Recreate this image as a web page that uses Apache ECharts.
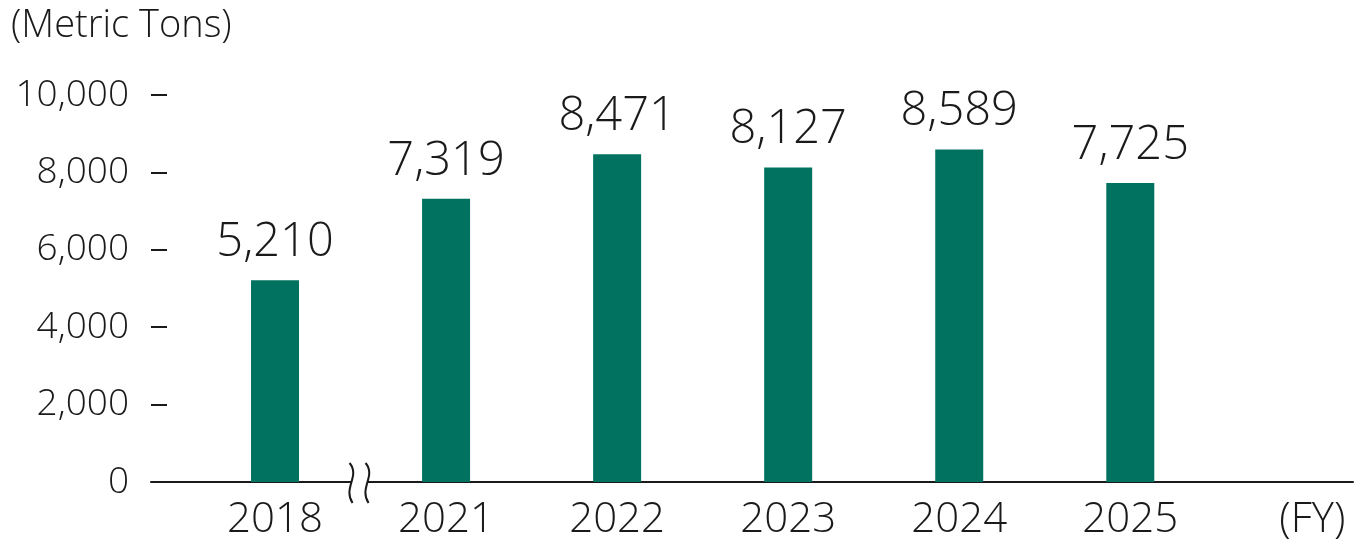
<!DOCTYPE html>
<html>
<head>
    <meta charset="utf-8">
    <title>Metric Tons</title>
    <script src="https://cdn.jsdelivr.net/npm/echarts@6/dist/echarts.min.js"></script>
    <style>
        html, body { margin: 0; padding: 0; background: #fff; }
        #chart1 { width: 1360px; height: 550px; }
    </style>
</head>
<body>
<div id="chart1"></div>
<script>
    // data
    var years = ['2018', '2021', '2022', '2023', '2024', '2025'];
    var tons = [5210, 7319, 8471, 8127, 8589, 7725];
    var yTicks = [0, 2000, 4000, 6000, 8000, 10000];
    var unitX = '(FY)';
    var unitY = '(Metric Tons)';

    var ink = '#1a1a1a';
    var green = '#00725f';
    var font = '"Open Sans", "Noto Sans", sans-serif';

    var myChart1 = echarts.init(document.getElementById('chart1'));

    // bars sit on a value axis by index, so the line can run past the last band
    var barData = tons.map(function (v, i) { return [i, v]; });
    var xLabelAt = years.map(function (y, i) { return i; });
    xLabelAt.push(years.length); // slot for (FY)

    myChart1.setOption({
        animation: false,
        title: {
            text: unitY,
            left: 6,
            top: 2,
            textStyle: { fontFamily: font, fontSize: 38, fontWeight: 300, color: ink }
        },
        grid: { left: 151, right: 7, top: 95, bottom: 68 },
        xAxis: {
            type: 'value',
            min: -0.725,
            max: 6.302,
            splitLine: { show: false },
            axisLine: { show: true, onZero: false, lineStyle: { color: ink, width: 2 } },
            axisTick: { show: false },
            axisLabel: {
                customValues: xLabelAt,
                margin: 17,
                fontFamily: font,
                fontSize: 42,
                fontWeight: 300,
                color: ink,
                formatter: function (v) {
                    if (v >= years.length) return '{fy|' + unitX + '}';
                    return years[v];
                },
                rich: {
                    fy: { fontFamily: font, fontSize: 42, fontWeight: 300, color: ink, padding: [0, 0, 0, 22] }
                }
            }
        },
        yAxis: {
            type: 'value',
            min: yTicks[0],
            max: yTicks[yTicks.length - 1],
            interval: 2000,
            splitLine: { show: false },
            axisLine: { show: false, onZero: false },
            axisTick: { show: true, inside: true, length: 16, lineStyle: { color: ink, width: 2 } },
            axisLabel: {
                margin: 22,
                fontFamily: font,
                fontSize: 37,
                fontWeight: 300,
                color: ink,
                formatter: function (v) { return v.toLocaleString('en-US'); }
            }
        },
        series: [{
            type: 'bar',
            data: barData,
            barWidth: 48,
            itemStyle: { color: green },
            label: {
                show: true,
                position: 'top',
                distance: 14,
                fontFamily: font,
                fontSize: 47,
                fontWeight: 300,
                color: ink,
                formatter: function (p) { return p.value[1].toLocaleString('en-US'); }
            }
        }]
    });

    // axis break mark between 2018 and 2021
    var bx = myChart1.convertToPixel({ xAxisIndex: 0 }, 0.5);
    var by = myChart1.convertToPixel({ yAxisIndex: 0 }, 0);
    function wave(cx) {
        return {
            type: 'bezierCurve',
            z: 100,
            shape: {
                x1: cx - 2, y1: by - 19,
                cpx1: cx + 9, cpy1: by - 6,
                cpx2: cx - 9, cpy2: by + 6,
                x2: cx + 1, y2: by + 21
            },
            style: { stroke: ink, lineWidth: 2, fill: null }
        };
    }
    myChart1.setOption({
        graphic: [
            { type: 'rect', z: 99, shape: { x: bx - 9, y: by - 4, width: 16, height: 8 }, style: { fill: '#fff' } },
            wave(bx - 9),
            wave(bx + 7)
        ]
    });
</script>
</body>
</html>
